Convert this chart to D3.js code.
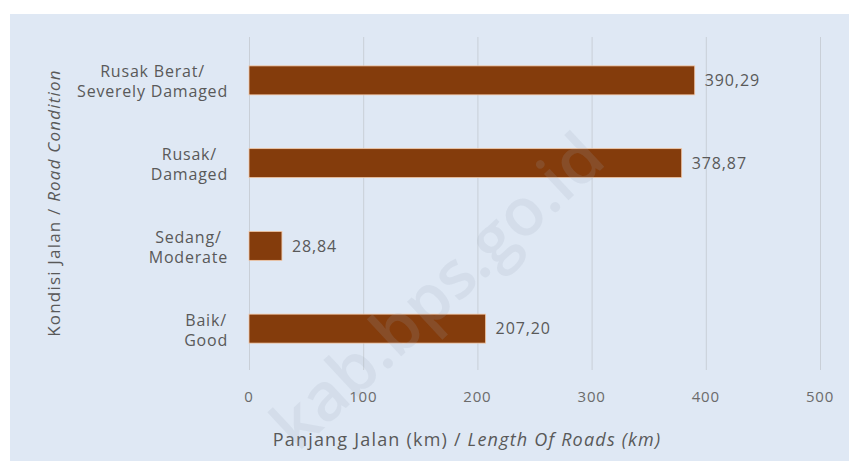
<!DOCTYPE html>
<html lang="en">
<head>
    <meta charset="UTF-8">
    <title>Kondisi Jalan</title>
    <style>
        body { margin: 0; background: #ffffff; }
        svg { display: block; }
        text { font-family: "Open Sans", "Noto Sans", sans-serif; fill: #595959; }
    </style>
</head>
<body>
    <script src="https://d3js.org/d3.v7.min.js"></script>
    <script>
        const width = 849;
        const height = 461;

        // data, top to bottom
        const categories = [
            ["Rusak Berat/", "Severely Damaged"],
            ["Rusak/", "Damaged"],
            ["Sedang/", "Moderate"],
            ["Baik/", "Good"]
        ];
        const values = [390.29, 378.87, 28.84, 207.20];
        const xTicks = [0, 100, 200, 300, 400, 500];

        const svg = d3.select("body").append("svg")
            .attr("width", width)
            .attr("height", height);

        // panel
        svg.append("rect")
            .attr("x", 10).attr("y", 14)
            .attr("width", width - 10).attr("height", height - 14)
            .attr("fill", "#dfe8f4");

        const x = d3.scaleLinear().domain([0, 500]).range([249, 820]);
        const y = d3.scaleBand().domain(d3.range(categories.length)).range([39, 370]).paddingInner(0.65).paddingOuter(0.325);

        // grid
        svg.append("g")
            .attr("transform", "translate(0,370)")
            .call(d3.axisBottom(x).tickValues(xTicks).tickSize(-333).tickFormat(""))
            .call(g => g.select(".domain").remove())
            .call(g => g.selectAll("line").attr("stroke", "#c9cfd7"));

        // tick labels
        svg.append("g")
            .selectAll("text")
            .data(xTicks)
            .join("text")
            .attr("x", d => x(d))
            .attr("y", 402)
            .attr("text-anchor", "middle")
            .attr("font-size", 15)
            .attr("letter-spacing", 0.8)
            .style("fill", "#6b6b6b")
            .text(d => d);

        // bars
        svg.append("g")
            .selectAll("rect")
            .data(values)
            .join("rect")
            .attr("x", x(0))
            .attr("y", (d, i) => y(i))
            .attr("width", d => x(d) - x(0))
            .attr("height", y.bandwidth())
            .attr("fill", "#843c0c")
            .attr("stroke", "#f4c9a8")
            .attr("stroke-width", 0.8);

        // value labels
        const fmt = d3.formatLocale({ decimal: ",", thousands: ".", grouping: [3], currency: ["", ""] }).format(".2f");
        svg.append("g")
            .selectAll("text")
            .data(values)
            .join("text")
            .attr("x", d => x(d) + 10)
            .attr("y", (d, i) => y(i) + y.bandwidth() / 2)
            .attr("dy", "0.36em")
            .attr("font-size", 16)
            .attr("letter-spacing", 0.9)
            .text(d => fmt(d));

        // category labels: lines centred on each other, block right-aligned
        const cat = svg.append("g")
            .selectAll("text")
            .data(categories)
            .join("text")
            .attr("text-anchor", "middle")
            .attr("font-size", 16)
            .attr("letter-spacing", 0.8);
        cat.append("tspan")
            .attr("y", (d, i) => y(i) + y.bandwidth() / 2 - 3)
            .text(d => d[0]);
        cat.append("tspan")
            .attr("y", (d, i) => y(i) + y.bandwidth() / 2 + 17)
            .text(d => d[1]);
        cat.each(function () {
            const spans = d3.select(this).selectAll("tspan");
            const w = d3.max(spans.nodes(), n => n.getComputedTextLength());
            spans.attr("x", 228 - w / 2);
        });

        // axis titles
        const xt = svg.append("text")
            .attr("x", 467).attr("y", 446)
            .attr("text-anchor", "middle")
            .attr("font-size", 18)
            .attr("letter-spacing", 1.2);
        xt.append("tspan").text("Panjang Jalan (km) / ");
        xt.append("tspan").attr("font-style", "italic").text("Length Of Roads (km)");

        const yt = svg.append("text")
            .attr("transform", "translate(60,203) rotate(-90)")
            .attr("text-anchor", "middle")
            .attr("font-size", 17)
            .attr("letter-spacing", 1.2);
        yt.append("tspan").text("Kondisi Jalan / ");
        yt.append("tspan").attr("font-style", "italic").text("Road Condition");

        // watermark on top, sized to run along the diagonal
        const wm = svg.append("text")
            .attr("text-anchor", "middle")
            .attr("font-size", 60)
            .attr("font-weight", 600)
            .style("fill", "#9ea9b8")
            .style("fill-opacity", 0.16)
            .text("kab.bps.go.id");
        const fs = 60 * 425 / wm.node().getComputedTextLength();
        wm.attr("font-size", fs)
            .attr("transform", "translate(453,308) rotate(-43)");
    </script>
</body>
</html>
